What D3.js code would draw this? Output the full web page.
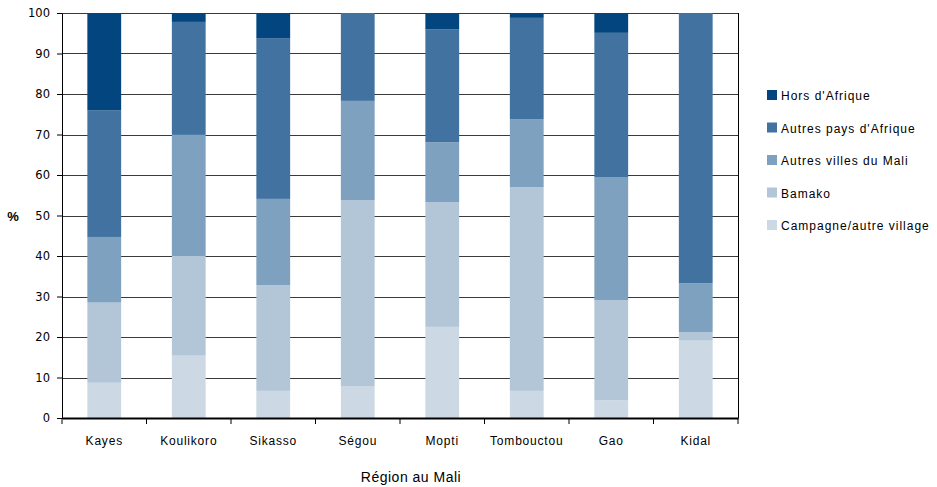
<!DOCTYPE html>
<html>
<head>
<meta charset="utf-8">
<script src="https://cdn.jsdelivr.net/npm/d3@7"></script>
<style>
  body { margin: 0; background: #fff; }
  text { font-family: "Liberation Sans", Arial, sans-serif; fill: #000; }
</style>
</head>
<body>
<div id="chart"></div>
<script>
// categories et series
const regions = ["Kayes", "Koulikoro", "Sikasso", "Ségou", "Mopti", "Tombouctou", "Gao", "Kidal"];
const seriesNames = ["Campagne/autre village", "Bamako", "Autres villes du Mali", "Autres pays d'Afrique", "Hors d'Afrique"];
const campagne    = [8.7, 15.4, 6.7, 7.9, 22.5, 6.7, 4.4, 19.1];
const bamako      = [19.8, 24.6, 26.1, 45.9, 30.8, 50.3, 24.7, 2.1];
const autresVilles = [16.2, 29.9, 21.3, 24.5, 14.8, 16.8, 30.4, 12.1];
const autresPays  = [31.3, 27.9, 39.7, 21.7, 27.9, 25.0, 35.6, 66.7];
const horsAfrique = [24.0, 2.2, 6.2, 0, 4.0, 1.2, 4.9, 0];
const yTicks = [0, 10, 20, 30, 40, 50, 60, 70, 80, 90, 100];
const colors = ["#ccd9e4", "#b3c6d8", "#7fa1c0", "#4273a0", "#03457e"];

const width = 937, height = 487;
const margin = { top: 13, right: 199, bottom: 69, left: 62 };
const chartWidth = width - margin.left - margin.right;
const chartHeight = height - margin.top - margin.bottom;

const svg = d3.select("#chart").append("svg")
  .attr("width", width)
  .attr("height", height);

const g = svg.append("g")
  .attr("transform", `translate(${margin.left},${margin.top})`);

// table pour d3.stack
const allSeries = [campagne, bamako, autresVilles, autresPays, horsAfrique];
const table = regions.map((r, i) => {
  const row = { region: r };
  seriesNames.forEach((s, j) => row[s] = allSeries[j][i]);
  return row;
});
const stacked = d3.stack().keys(seriesNames)(table);

const x = d3.scaleBand().domain(regions).range([0, chartWidth]).paddingInner(0.6).paddingOuter(0.3);
const xOuter = d3.scaleBand().domain(regions).range([0, chartWidth]);
const y = d3.scaleLinear().domain([0, 100]).range([chartHeight, 0]);

// grille
g.append("g")
  .selectAll("line")
  .data(yTicks)
  .join("line")
  .attr("x1", 0).attr("x2", chartWidth)
  .attr("y1", d => Math.round(y(d)) + 0.5).attr("y2", d => Math.round(y(d)) + 0.5)
  .attr("stroke", "#3a3a3a").attr("stroke-width", 1);

// barres
g.append("g")
  .selectAll("g")
  .data(stacked)
  .join("g")
  .attr("fill", (d, i) => colors[i])
  .selectAll("rect")
  .data(d => d)
  .join("rect")
  .attr("x", d => x(d.data.region))
  .attr("y", d => y(d[1]))
  .attr("height", d => y(d[0]) - y(d[1]))
  .attr("width", x.bandwidth());

// axe Y
const yAxis = g.append("g")
  .call(d3.axisLeft(y).tickValues(yTicks).tickSize(5).tickSizeOuter(0));
yAxis.select(".domain").attr("stroke", "#000");
yAxis.selectAll("line").attr("stroke", "#000");
yAxis.selectAll("text").attr("font-size", 12).attr("x", -12)
  .style("font-family", "'DejaVu Sans', sans-serif").style("font-size", "11.5px");

// bord droit
g.append("line")
  .attr("x1", chartWidth + 0.5).attr("x2", chartWidth + 0.5)
  .attr("y1", 0).attr("y2", chartHeight)
  .attr("stroke", "#000");

// axe X
const xAxis = g.append("g")
  .attr("transform", `translate(0,${chartHeight})`)
  .call(d3.axisBottom(xOuter).tickSize(0).tickSizeOuter(0));
xAxis.select(".domain").attr("stroke", "#000").attr("stroke-width", 2);
xAxis.selectAll("text").attr("dy", 0).attr("y", 27)
  .style("font-size", "12px").style("letter-spacing", "0.8px");
xAxis.append("g")
  .selectAll("line")
  .data(d3.range(regions.length + 1))
  .join("line")
  .attr("x1", d => d * xOuter.step()).attr("x2", d => d * xOuter.step())
  .attr("y1", 0).attr("y2", 6)
  .attr("stroke", "#000");

// titres des axes
svg.append("text")
  .attr("x", 13).attr("y", 221)
  .attr("text-anchor", "middle")
  .style("font-size", "13px").style("font-weight", "bold")
  .text("%");

svg.append("text")
  .attr("x", 411).attr("y", 482)
  .attr("text-anchor", "middle")
  .style("font-size", "14px").style("letter-spacing", "0.5px")
  .text("Région au Mali");

// legende
const legendNames = seriesNames.slice().reverse();
const legendColors = colors.slice().reverse();
const legend = svg.append("g")
  .attr("transform", "translate(767,90)");
const items = legend.selectAll("g")
  .data(legendNames)
  .join("g")
  .attr("transform", (d, i) => `translate(0,${i * 32.5})`);
items.append("rect")
  .attr("width", 10).attr("height", 10)
  .attr("fill", (d, i) => legendColors[i]);
items.append("text")
  .attr("x", 14).attr("y", 10)
  .style("font-size", "12px").style("letter-spacing", "1px")
  .text(d => d);
</script>
</body>
</html>
